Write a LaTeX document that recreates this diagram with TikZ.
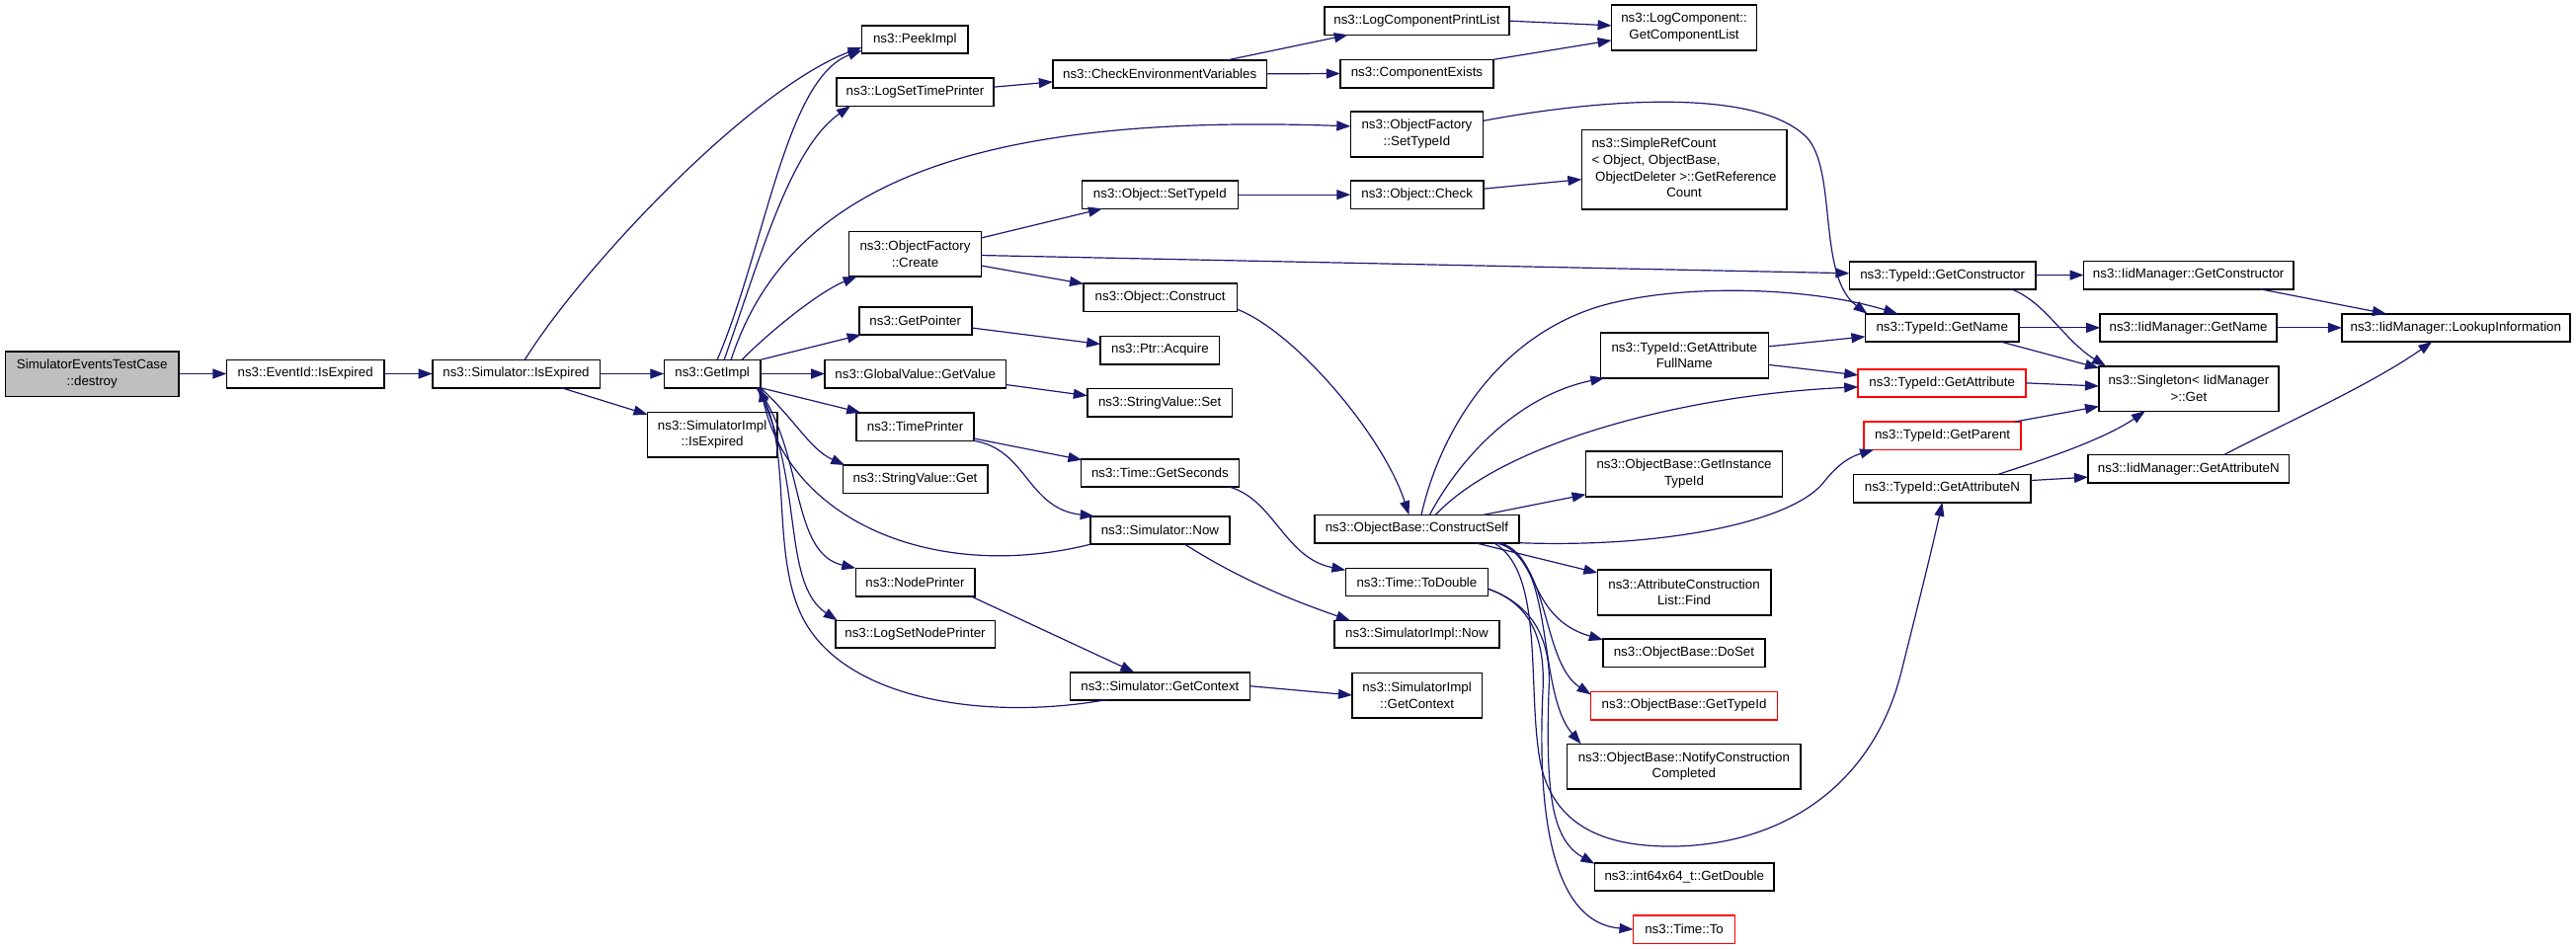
\documentclass[tikz,border=0pt]{standalone}
\usepackage{fontspec}
\setmainfont{Liberation Sans}
\usetikzlibrary{arrows.meta,calc}
\definecolor{navyline}{HTML}{191970}
\definecolor{grayfill}{HTML}{BFBFBF}
\definecolor{redline}{HTML}{FF0000}
\newcommand{\fnbox}[7][]{%
  \node[fn,#1,minimum width={(#5-#3)*0.75pt},minimum height={(#6-#4)*0.75pt}] (#2) at ({(#3+#5)/2},{(#4+#6)/2}) {#7};}
\begin{document}
\begin{tikzpicture}[x=0.75pt,y=-0.75pt,
  fn/.style={draw=black,line width=1.2pt,fill=white,inner sep=0pt,outer sep=0pt,align=center,
             font=\fontsize{10pt}{12.5pt}\selectfont},
  redbox/.style={draw=redline},
  callarrow/.style={draw=navyline,line width=0.9pt,-{Triangle[length=10.5pt,width=7.5pt]}}]
\useasboundingbox (0,0) rectangle (2608,961);

% ---------- nodes ----------
\fnbox[fill=grayfill]{destroy}{5.5}{355.7}{181}{401.3}{SimulatorEventsTestCase\\::destroy}
\fnbox{eid}{229.4}{364.3}{388.9}{392.7}{ns3::EventId::IsExpired}
\fnbox{simexp}{437.7}{364.3}{607.3}{392.7}{ns3::Simulator::IsExpired}
\fnbox{getimpl}{672.3}{364.3}{770}{392.7}{ns3::GetImpl}
\fnbox{simimplexp}{655.5}{417.3}{786.8}{462.7}{ns3::SimulatorImpl\\::IsExpired}
\fnbox{peek}{872.6}{25.7}{980}{54}{ns3::PeekImpl}
\fnbox{logtime}{847}{79}{1006}{107.3}{ns3::LogSetTimePrinter}
\fnbox{checkenv}{1065.8}{60.7}{1282.6}{89}{ns3::CheckEnvironmentVariables}
\fnbox{printlist}{1340.8}{7}{1528.1}{35.3}{ns3::LogComponentPrintList}
\fnbox{complist}{1631.6}{5}{1778.5}{50.7}{ns3::LogComponent::\\GetComponentList}
\fnbox{compexists}{1356.8}{60.3}{1512.1}{88.7}{ns3::ComponentExists}
\fnbox{ofsettid}{1367.3}{113}{1501.6}{158.7}{ns3::ObjectFactory\\::SetTypeId}
\fnbox{ofcreate}{859.6}{234.3}{993.4}{280}{ns3::ObjectFactory\\::Create}
\fnbox{osettid}{1095.3}{183}{1253.5}{211.3}{ns3::Object::SetTypeId}
\fnbox{ocheck}{1367.3}{183}{1502}{211.3}{ns3::Object::Check}
\fnbox{refcount}{1601.3}{131.3}{1808.8}{212}{\begin{tabular}{@{}l@{}}ns3::SimpleRefCount\\< Object, ObjectBase,\\\ ObjectDeleter >::GetReference\\\multicolumn{1}{@{}c@{}}{Count}\end{tabular}}
\fnbox{oconstruct}{1097}{287}{1252.3}{315.3}{ns3::Object::Construct}
\fnbox{getpointer}{869.7}{311}{983.8}{339}{ns3::GetPointer}
\fnbox{acquire}{1114.2}{340.3}{1234.6}{368.7}{ns3::Ptr::Acquire}
\fnbox{gvget}{835.2}{364.3}{1018.3}{392.7}{ns3::GlobalValue::GetValue}
\fnbox{svset}{1100.8}{393.3}{1247.6}{422}{ns3::StringValue::Set}
\fnbox{timeprinter}{867.2}{417.7}{985.9}{446.3}{ns3::TimePrinter}
\fnbox{svget}{853.3}{471}{999.7}{499.3}{ns3::StringValue::Get}
\fnbox{getseconds}{1094.4}{464.7}{1254.4}{492.7}{ns3::Time::GetSeconds}
\fnbox{simnow}{1103.7}{522.7}{1245.1}{551}{ns3::Simulator::Now}
\fnbox{nodeprinter}{866.3}{575.3}{986.7}{603.7}{ns3::NodePrinter}
\fnbox{lognode}{845.7}{628.3}{1007.3}{656}{ns3::LogSetNodePrinter}
\fnbox{simctx}{1083.5}{680.7}{1265.3}{708.7}{ns3::Simulator::GetContext}
\fnbox{implctx}{1369}{681.3}{1500.3}{726.7}{ns3::SimulatorImpl\\::GetContext}
\fnbox{implnow}{1350.9}{628.3}{1518}{656}{ns3::SimulatorImpl::Now}
\fnbox{todouble}{1362.3}{575.3}{1506.6}{603.3}{ns3::Time::ToDouble}
\fnbox{cself}{1331.1}{521.3}{1537.8}{549.7}{ns3::ObjectBase::ConstructSelf}
\fnbox{fullname}{1620.3}{337}{1790.3}{382.7}{ns3::TypeId::GetAttribute\\FullName}
\fnbox{insttid}{1605.5}{457}{1804.6}{502.7}{ns3::ObjectBase::GetInstance\\TypeId}
\fnbox{aclfind}{1617.3}{577}{1792.8}{622.7}{ns3::AttributeConstruction\\List::Find}
\fnbox{doset}{1622.8}{647}{1787}{675.3}{ns3::ObjectBase::DoSet}
\fnbox[redbox]{obgettid}{1610.6}{700.3}{1799.6}{728.7}{ns3::ObjectBase::GetTypeId}
\fnbox{notify}{1586.6}{753.3}{1823.1}{798.7}{ns3::ObjectBase::NotifyConstruction\\Completed}
\fnbox{getdouble}{1614.4}{873.7}{1796.2}{902}{ns3::int64x64\_t::GetDouble}
\fnbox[redbox]{timeto}{1653.5}{927}{1756.6}{955.3}{ns3::Time::To}
\fnbox{tigetctor}{1872.4}{264.7}{2060.8}{292.7}{ns3::TypeId::GetConstructor}
\fnbox{tigetname}{1888.4}{317.7}{2044}{346}{ns3::TypeId::GetName}
\fnbox[redbox]{tigetattr}{1881.2}{373.7}{2051.1}{402}{ns3::TypeId::GetAttribute}
\fnbox[redbox]{tigetparent}{1887.1}{427}{2046}{455.3}{ns3::TypeId::GetParent}
\fnbox{tigetattrn}{1876.6}{480.3}{2056.2}{508.7}{ns3::TypeId::GetAttributeN}
\fnbox{imgetctor}{2109.5}{264.3}{2321.8}{292.7}{ns3::IidManager::GetConstructor}
\fnbox{imgetname}{2126.2}{317.7}{2305}{346}{ns3::IidManager::GetName}
\fnbox{lookup}{2370.9}{317.7}{2601.7}{346}{ns3::IidManager::LookupInformation}
\fnbox{singleton}{2125}{370.7}{2306.7}{416.3}{ns3::Singleton< IidManager\\>::Get}
\fnbox{imgetattrn}{2114}{460.3}{2317.6}{489}{ns3::IidManager::GetAttributeN}

% ---------- edges ----------
\draw[callarrow] (destroy) -- (eid);
\draw[callarrow] (eid) -- (simexp);
\draw[callarrow] (simexp) -- (getimpl);
\draw[callarrow] (simexp) -- (simimplexp);
\draw[callarrow] (simexp) .. controls (590,270) and (760,90) .. ($(peek.west)+(0,8)$);

\draw[callarrow] ($(getimpl.north)+(5,0)$) .. controls (775,250) and (795,80) .. ($(peek.west)+(0,11)$);
\draw[callarrow] ($(getimpl.north)+(12,0)$) .. controls (770,260) and (800,150) .. ($(logtime.south west)+(14,0)$);
\draw[callarrow] ($(getimpl.north)+(19,0)$) .. controls (800,180) and (1000,115) .. ($(ofsettid.west)+(0,-8)$);
\draw[callarrow] ($(getimpl.north)+(30,0)$) .. controls (780,335) and (830,295) .. ($(ofcreate.south west)+(8,0)$);
\draw[callarrow] (getimpl.north east) -- ($(getpointer.south west)+(2,0)$);
\draw[callarrow] (getimpl) -- (gvget);
\draw[callarrow] (getimpl.south east) -- ($(timeprinter.north west)+(4,0)$);
\draw[callarrow] (getimpl.south east) .. controls (805,425) and (820,455) .. ($(svget.north west)+(2,0)$);
\draw[callarrow] ($(getimpl.south east)+(-3,0)$) .. controls (815,460) and (800,560) .. (nodeprinter.north west);
\draw[callarrow] ($(getimpl.south east)+(-4,0)$) .. controls (815,480) and (790,590) .. ($(lognode.north west)+(2,0)$);
\draw[callarrow] ($(simnow.south west)+(1,0)$) .. controls (950,590) and (800,530) .. (getimpl.south east);
\draw[callarrow] ($(simctx.south west)+(36,0)$) .. controls (1000,730) and (850,710) .. (810,620)
   .. controls (782,557) and (800,460) .. ($(getimpl.south east)+(-2,0)$);

\draw[callarrow] ($(logtime.east)+(0,-5)$) -- ($(checkenv.west)+(0,8)$);
\draw[callarrow] ($(checkenv.north)+(69,0)$) -- ($(printlist.south west)+(24,0)$);
\draw[callarrow] (checkenv.east) -- (compexists.west);
\draw[callarrow] (printlist.east) -- ($(complist.west)+(0,-2)$);
\draw[callarrow] (compexists.north east) -- ($(complist.west)+(0,13)$);
\draw[callarrow] ($(ofsettid.east)+(0,-13.5)$) .. controls (1620,100) and (1780,88) .. (1830,140)
   .. controls (1860,175) and (1840,280) .. ($(tigetname.north west)+(2,0)$);
\draw[callarrow] (ofcreate) -- (osettid);
\draw[callarrow] (ofcreate) -- (tigetctor);
\draw[callarrow] (ofcreate) -- (oconstruct);
\draw[callarrow] (osettid) -- (ocheck);
\draw[callarrow] ($(ocheck.east)+(0,-6)$) -- ($(refcount.west)+(0,10)$);
\draw[callarrow] ($(oconstruct.east)+(0,12)$) .. controls (1310,335) and (1400,440) .. ($(cself.north)+(-8,0)$);
\draw[callarrow] ($(getpointer.east)+(0,7)$) -- ($(acquire.west)+(0,-6)$);
\draw[callarrow] ($(gvget.east)+(0,11)$) -- ($(svset.west)+(0,-7)$);
\draw[callarrow] ($(timeprinter.east)+(0,12)$) -- ($(getseconds.north west)+(1,1)$);
\draw[callarrow] (timeprinter.south east) .. controls (1040,455) and (1040,515) .. ($(simnow.north west)+(4,0)$);
\draw[callarrow] ($(getseconds.south east)+(-11,0)$) .. controls (1290,505) and (1300,565) .. ($(todouble.north west)+(0,2)$);
\draw[callarrow] ($(simnow.south)+(25,0)$) .. controls (1260,590) and (1320,612) .. ($(implnow.north west)+(16,0)$);
\draw[callarrow] ($(nodeprinter.south east)+(-4,0)$) -- ($(simctx.north)+(-26,0)$);
\draw[callarrow] (simctx.east) -- (implctx.west);
\draw[callarrow] ($(todouble.east)+(0,7)$) .. controls (1545,610) and (1565,640) .. (1562,700)
   .. controls (1555,850) and (1580,935) .. (timeto.west);
\draw[callarrow] ($(todouble.east)+(0,7)$) .. controls (1545,610) and (1572,640) .. (1568,700)
   .. controls (1565,800) and (1570,850) .. ($(getdouble.north west)+(0,1)$);

\draw[callarrow] ($(cself.north)+(4.5,0)$) .. controls (1460,430) and (1520,340) .. (1620,310)
   .. controls (1700,287) and (1830,290) .. ($(tigetname.north)+(-45,0)$);
\draw[callarrow] ($(cself.north)+(13,0)$) .. controls (1480,460) and (1540,400) .. ($(fullname.south west)+(4,0)$);
\draw[callarrow] ($(cself.north)+(19,0)$) .. controls (1520,450) and (1700,400) .. ($(tigetattr.west)+(0,4)$);
\draw[callarrow] ($(cself.north)+(67.5,0)$) -- ($(insttid.south west)+(0,-2)$);
\draw[callarrow] (cself.south east) .. controls (1680,555) and (1810,530) .. (1845,490)
   .. controls (1862,468) and (1875,462) .. ($(tigetparent.south west)+(10,0)$);
\draw[callarrow] ($(cself.south)+(59,0)$) -- ($(aclfind.north west)+(0,3)$);
\draw[callarrow] ($(cself.south)+(80,0)$) .. controls (1560,560) and (1545,625) .. ($(doset.north west)+(0,1)$);
\draw[callarrow] ($(cself.south)+(82,0)$) .. controls (1570,565) and (1560,670) .. ($(obgettid.north west)+(0,3)$);
\draw[callarrow] ($(cself.south)+(84,0)$) .. controls (1575,565) and (1555,700) .. ($(notify.north west)+(14,0)$);
\draw[callarrow] ($(cself.south)+(78,0)$) .. controls (1565,580) and (1545,700) .. (1560,775)
   .. controls (1575,840) and (1630,858) .. (1696,857)
   .. controls (1800,855) and (1895,800) .. (1925,680)
   .. controls (1945,600) and (1955,560) .. (tigetattrn.south);

\draw[callarrow] ($(fullname.east)+(0,-9)$) -- ($(tigetname.west)+(0,9)$);
\draw[callarrow] ($(fullname.east)+(0,9.5)$) -- ($(tigetattr.west)+(0,-8)$);
\draw[callarrow] (tigetctor) -- (imgetctor);
\draw[callarrow] ($(tigetctor.south east)+(-25,0)$) .. controls (2070,305) and (2090,345) .. ($(singleton.north west)+(7,0)$);
\draw[callarrow] (tigetname) -- (imgetname);
\draw[callarrow] ($(tigetname.south east)+(-18.5,0)$) -- ($(singleton.north west)+(0,2)$);
\draw[callarrow] (tigetattr.east) -- ($(singleton.west)+(0,-2.5)$);
\draw[callarrow] ($(tigetparent.north east)+(-6,0)$) -- ($(singleton.west)+(0,18)$);
\draw[callarrow] ($(tigetattrn.north east)+(-33,0)$) .. controls (2070,465) and (2130,445) .. ($(singleton.south)+(-44,0)$);
\draw[callarrow] ($(tigetattrn.east)+(0,-8)$) -- ($(imgetattrn.west)+(0,8.5)$);
\draw[callarrow] ($(imgetctor.south east)+(-34,0)$) -- ($(lookup.north west)+(45,0)$);
\draw[callarrow] (imgetname) -- (lookup);
\draw[callarrow] ($(imgetattrn.north east)+(-65.5,0)$) .. controls (2310,430) and (2400,390) .. ($(lookup.south)+(-24,0)$);
\end{tikzpicture}
\end{document}
